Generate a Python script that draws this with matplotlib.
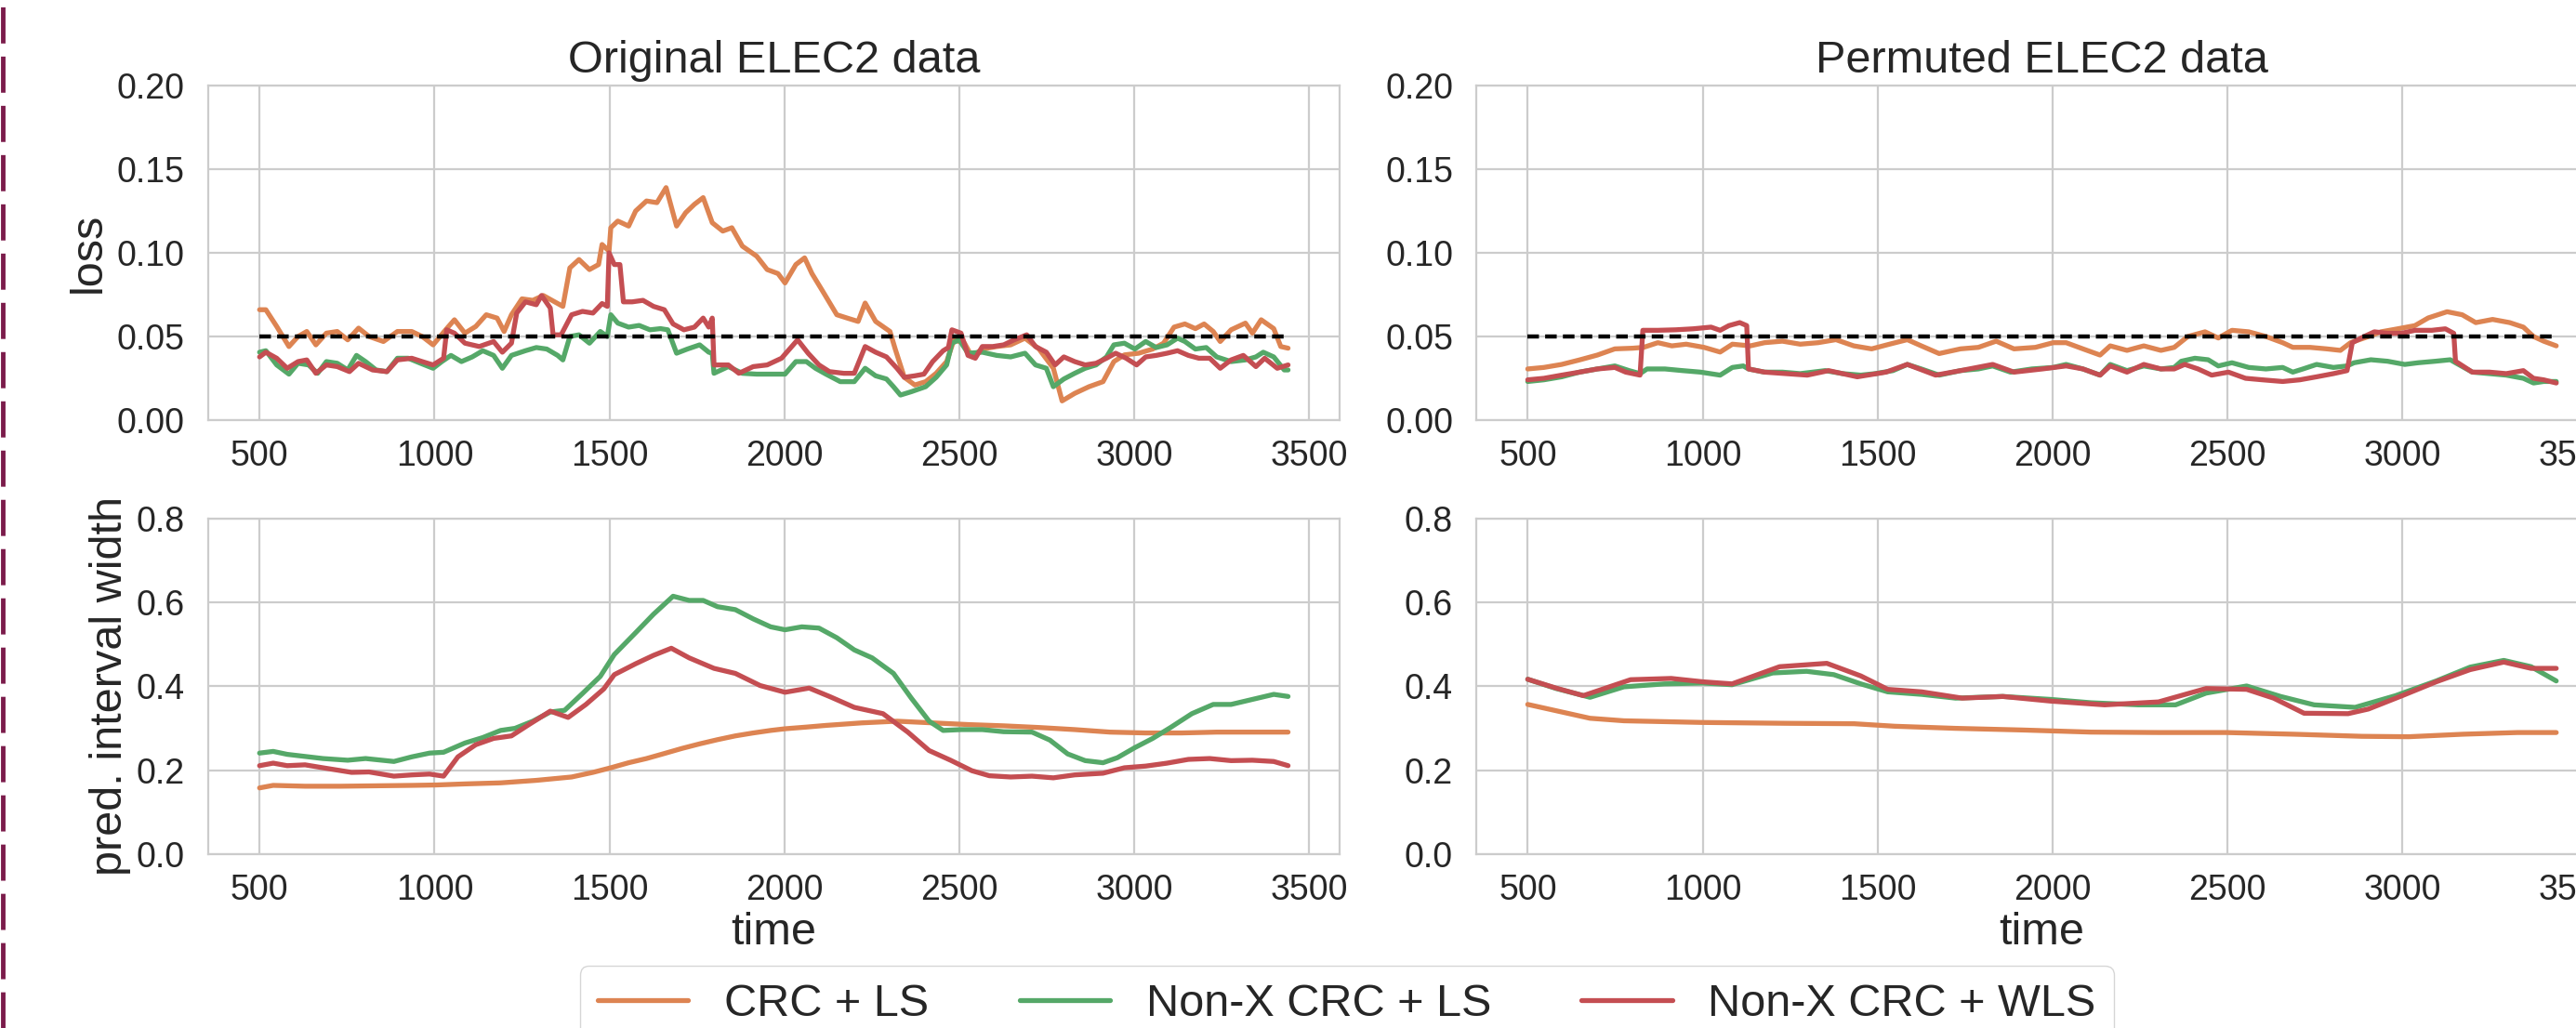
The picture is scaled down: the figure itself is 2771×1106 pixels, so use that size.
import matplotlib
matplotlib.use("Agg")
import matplotlib.pyplot as plt
import seaborn as sns
from matplotlib.lines import Line2D

# ---- data ------------------------------------------------------------------
labels = ["CRC + LS", "Non-X CRC + LS", "Non-X CRC + WLS"]
target_loss = 0.05

# original ELEC2, loss
t_orig_loss_crc = [500, 518, 549, 584, 610, 635, 661, 691, 722, 752,
                   783, 813, 854, 894, 935, 965, 996, 1032, 1057, 1087,
                   1118, 1148, 1179, 1199, 1220, 1250, 1281, 1311, 1341, 1367,
                   1387, 1413, 1443, 1469, 1479, 1499, 1504, 1524, 1555, 1575,
                   1606, 1636, 1662, 1692, 1718, 1743, 1768, 1794, 1824, 1850,
                   1880, 1921, 1951, 1982, 2002, 2033, 2058, 2079, 2109, 2150,
                   2180, 2211, 2231, 2261, 2302, 2317, 2343, 2373, 2404, 2434,
                   2464, 2485, 2515, 2536, 2566, 2607, 2647, 2688, 2728, 2769,
                   2794, 2830, 2871, 2911, 2942, 2972, 3013, 3053, 3084, 3114,
                   3145, 3175, 3200, 3226, 3246, 3277, 3318, 3338, 3363, 3399,
                   3419, 3440]
orig_loss_crc = [0.066, 0.066, 0.056, 0.044, 0.050, 0.053, 0.045, 0.052, 0.053, 0.048,
                 0.055, 0.050, 0.047, 0.053, 0.053, 0.050, 0.045, 0.054, 0.060, 0.052,
                 0.056, 0.063, 0.061, 0.053, 0.063, 0.0725, 0.0716, 0.0745, 0.071, 0.068,
                 0.091, 0.096, 0.090, 0.093, 0.105, 0.101, 0.115, 0.119, 0.116, 0.125,
                 0.131, 0.130, 0.139, 0.116, 0.124, 0.129, 0.133, 0.118, 0.113, 0.115,
                 0.104, 0.098, 0.090, 0.0876, 0.082, 0.093, 0.097, 0.0876, 0.0773, 0.063,
                 0.061, 0.059, 0.070, 0.059, 0.053, 0.0425, 0.0256, 0.021, 0.023, 0.028,
                 0.035, 0.048, 0.046, 0.038, 0.0425, 0.044, 0.045, 0.049, 0.0425, 0.031,
                 0.0115, 0.016, 0.020, 0.023, 0.035, 0.039, 0.040, 0.0425, 0.046, 0.0556,
                 0.0575, 0.0547, 0.0575, 0.053, 0.047, 0.054, 0.058, 0.052, 0.060, 0.0547,
                 0.044, 0.043]

t_orig_loss_ls = [500, 518, 549, 584, 610, 640, 666, 691, 722, 752,
                  777, 803, 833, 864, 894, 925, 960, 996, 1021, 1047,
                  1077, 1108, 1138, 1169, 1194, 1220, 1260, 1291, 1321, 1352,
                  1367, 1387, 1413, 1443, 1474, 1494, 1504, 1524, 1555, 1585,
                  1616, 1646, 1667, 1692, 1723, 1758, 1784, 1794, 1799, 1840,
                  1880, 1921, 1961, 2002, 2033, 2063, 2089, 2119, 2160, 2200,
                  2231, 2261, 2292, 2312, 2332, 2363, 2404, 2434, 2464, 2479,
                  2500, 2525, 2566, 2607, 2647, 2688, 2718, 2749, 2769, 2799,
                  2830, 2860, 2891, 2921, 2942, 2972, 3002, 3033, 3063, 3094,
                  3124, 3145, 3175, 3206, 3236, 3277, 3318, 3348, 3369, 3399,
                  3429, 3440]
orig_loss_ls = [0.0406, 0.0415, 0.033, 0.0275, 0.034, 0.033, 0.028, 0.035, 0.034, 0.030,
                0.0387, 0.035, 0.030, 0.029, 0.037, 0.037, 0.034, 0.031, 0.035, 0.0387,
                0.035, 0.0378, 0.0415, 0.0387, 0.031, 0.0387, 0.0415, 0.0434, 0.0425, 0.0387,
                0.036, 0.050, 0.051, 0.046, 0.053, 0.050, 0.063, 0.058, 0.0556, 0.0566,
                0.054, 0.0547, 0.054, 0.040, 0.0425, 0.045, 0.0406, 0.040, 0.028, 0.032,
                0.028, 0.0275, 0.0275, 0.0275, 0.035, 0.035, 0.031, 0.0275, 0.023, 0.023,
                0.031, 0.0265, 0.0246, 0.020, 0.015, 0.017, 0.020, 0.0256, 0.033, 0.046,
                0.048, 0.040, 0.0406, 0.0387, 0.0378, 0.040, 0.033, 0.031, 0.020, 0.0246,
                0.028, 0.031, 0.033, 0.0378, 0.045, 0.046, 0.0425, 0.047, 0.0434, 0.045,
                0.049, 0.047, 0.0425, 0.0434, 0.0378, 0.035, 0.036, 0.0378, 0.0406, 0.0378,
                0.030, 0.030]

t_orig_loss_wls = [500, 518, 549, 579, 610, 635, 661, 691, 722, 757,
                   783, 823, 864, 894, 935, 965, 996, 1026, 1035, 1057,
                   1087, 1128, 1169, 1194, 1220, 1235, 1260, 1291, 1306, 1331,
                   1339, 1362, 1392, 1423, 1453, 1479, 1494, 1499, 1514, 1530,
                   1540, 1565, 1596, 1626, 1657, 1682, 1713, 1743, 1768, 1784,
                   1794, 1799, 1840, 1870, 1911, 1951, 1992, 2038, 2068, 2099,
                   2129, 2170, 2200, 2231, 2261, 2292, 2322, 2343, 2373, 2399,
                   2424, 2454, 2469, 2479, 2505, 2525, 2546, 2566, 2596, 2627,
                   2657, 2693, 2718, 2749, 2774, 2799, 2830, 2860, 2891, 2921,
                   2947, 2977, 3007, 3033, 3063, 3094, 3124, 3155, 3185, 3216,
                   3246, 3277, 3312, 3348, 3373, 3409, 3440]
orig_loss_wls = [0.0378, 0.0406, 0.037, 0.031, 0.035, 0.036, 0.028, 0.033, 0.032, 0.029,
                 0.034, 0.030, 0.029, 0.036, 0.037, 0.035, 0.033, 0.037, 0.054, 0.052,
                 0.046, 0.044, 0.047, 0.0406, 0.046, 0.064, 0.0707, 0.069, 0.0745, 0.067,
                 0.051, 0.051, 0.063, 0.065, 0.064, 0.0697, 0.068, 0.100, 0.093, 0.093,
                 0.0707, 0.0707, 0.0716, 0.068, 0.066, 0.0575, 0.054, 0.0556, 0.061, 0.0556,
                 0.061, 0.033, 0.033, 0.028, 0.032, 0.033, 0.037, 0.048, 0.040, 0.033,
                 0.029, 0.028, 0.028, 0.044, 0.0406, 0.0378, 0.031, 0.0256, 0.0265, 0.0275,
                 0.035, 0.0415, 0.0434, 0.054, 0.052, 0.0387, 0.037, 0.044, 0.044, 0.045,
                 0.048, 0.051, 0.044, 0.0406, 0.033, 0.0378, 0.035, 0.033, 0.034, 0.037,
                 0.040, 0.037, 0.033, 0.0378, 0.0387, 0.040, 0.0415, 0.0387, 0.037, 0.037,
                 0.031, 0.036, 0.0387, 0.032, 0.037, 0.031, 0.033]

# permuted ELEC2, loss
t_perm_loss_crc = [500, 546, 597, 648, 699, 749, 800, 831, 872, 912,
                   953, 1004, 1050, 1085, 1136, 1177, 1228, 1279, 1330, 1381,
                   1432, 1483, 1534, 1585, 1625, 1676, 1737, 1788, 1839, 1890,
                   1951, 2002, 2039, 2087, 2136, 2165, 2213, 2261, 2310, 2348,
                   2387, 2436, 2474, 2513, 2561, 2610, 2658, 2687, 2736, 2784,
                   2823, 2852, 2891, 2939, 2987, 3036, 3074, 3128, 3171, 3210,
                   3258, 3307, 3346, 3375, 3404, 3440]
perm_loss_crc = [0.0306, 0.0315, 0.0333, 0.036, 0.0389, 0.0426, 0.043, 0.0435, 0.0463, 0.0444,
                 0.0454, 0.0435, 0.0407, 0.0454, 0.0444, 0.0463, 0.0472, 0.0454, 0.0463, 0.0481,
                 0.0444, 0.0426, 0.0454, 0.0481, 0.0444, 0.0398, 0.0426, 0.0435, 0.0472, 0.0426,
                 0.0435, 0.0463, 0.0463, 0.0426, 0.0389, 0.0444, 0.0417, 0.0444, 0.0417, 0.0435,
                 0.050, 0.0528, 0.0491, 0.0537, 0.0528, 0.050, 0.0463, 0.0435, 0.0435, 0.0426,
                 0.0417, 0.0463, 0.0491, 0.0528, 0.0546, 0.0565, 0.0611, 0.0648, 0.063, 0.0583,
                 0.0602, 0.0583, 0.0556, 0.050, 0.0472, 0.0444]

t_perm_loss_ls = [500, 546, 597, 648, 699, 749, 790, 821, 841, 892,
                  943, 994, 1050, 1085, 1116, 1131, 1177, 1228, 1279, 1350,
                  1401, 1452, 1493, 1544, 1585, 1625, 1676, 1737, 1788, 1829,
                  1880, 1941, 2002, 2039, 2087, 2136, 2165, 2213, 2261, 2310,
                  2348, 2368, 2407, 2445, 2474, 2513, 2561, 2610, 2658, 2687,
                  2716, 2755, 2803, 2842, 2862, 2910, 2958, 3007, 3045, 3094,
                  3137, 3152, 3200, 3249, 3297, 3346, 3375, 3404, 3440]
perm_loss_ls = [0.0231, 0.0241, 0.0259, 0.0287, 0.0306, 0.0324, 0.0296, 0.0278, 0.0306, 0.0306,
                0.0296, 0.0287, 0.0269, 0.0315, 0.0324, 0.0306, 0.0287, 0.0287, 0.0278, 0.0296,
                0.0278, 0.0269, 0.0278, 0.0296, 0.0333, 0.0306, 0.0269, 0.0296, 0.0306, 0.0324,
                0.0287, 0.0306, 0.0315, 0.0333, 0.0306, 0.0269, 0.0333, 0.0296, 0.0324, 0.0306,
                0.0315, 0.0352, 0.037, 0.0361, 0.0324, 0.0343, 0.0315, 0.0306, 0.0315, 0.0287,
                0.0306, 0.0333, 0.0315, 0.0324, 0.0343, 0.0361, 0.0352, 0.0333, 0.0343, 0.0352,
                0.0361, 0.0343, 0.0287, 0.0278, 0.0269, 0.025, 0.0222, 0.0231, 0.0231]

t_perm_loss_wls = [500, 546, 597, 648, 699, 749, 780, 821, 829, 872,
                   923, 973, 1024, 1050, 1075, 1106, 1126, 1131, 1177, 1238,
                   1299, 1360, 1442, 1524, 1585, 1666, 1737, 1829, 1890, 1971,
                   2039, 2087, 2136, 2165, 2213, 2261, 2310, 2348, 2378, 2416,
                   2455, 2503, 2552, 2600, 2658, 2707, 2755, 2803, 2842, 2857,
                   2891, 2920, 2958, 2997, 3036, 3084, 3123, 3147, 3152, 3200,
                   3249, 3297, 3346, 3375, 3404, 3440]
perm_loss_wls = [0.0241, 0.025, 0.0269, 0.0287, 0.0306, 0.0315, 0.0287, 0.0269, 0.0537, 0.0537,
                 0.054, 0.0546, 0.0556, 0.0537, 0.0565, 0.0583, 0.0565, 0.0306, 0.0287, 0.0278,
                 0.0269, 0.0296, 0.0259, 0.0287, 0.0333, 0.0269, 0.0296, 0.0333, 0.0287, 0.0306,
                 0.0324, 0.0306, 0.0269, 0.0324, 0.0287, 0.0333, 0.0306, 0.0306, 0.0333, 0.0306,
                 0.0269, 0.0287, 0.025, 0.0241, 0.0231, 0.0241, 0.0259, 0.0278, 0.0296, 0.0463,
                 0.050, 0.0528, 0.0519, 0.0519, 0.0537, 0.0537, 0.0546, 0.0519, 0.0352, 0.0287,
                 0.0287, 0.0278, 0.0296, 0.025, 0.0241, 0.0222]

# original ELEC2, interval width
t_orig_w_crc = [500, 539, 630, 732, 833, 935, 1006, 1087, 1189, 1291,
                1392, 1453, 1504, 1555, 1606, 1657, 1707, 1758, 1809, 1860,
                1911, 1961, 2002, 2063, 2119, 2221, 2322, 2424, 2525, 2627,
                2728, 2830, 2931, 3033, 3135, 3236, 3338, 3440]
orig_w_crc = [0.158, 0.164, 0.162, 0.162, 0.163, 0.164, 0.165, 0.1675, 0.170, 0.176,
              0.184, 0.195, 0.206, 0.218, 0.228, 0.240, 0.252, 0.263, 0.273, 0.282,
              0.289, 0.295, 0.299, 0.303, 0.307, 0.313, 0.317, 0.313, 0.309, 0.306,
              0.302, 0.297, 0.291, 0.289, 0.289, 0.291, 0.291, 0.291]

t_orig_w_ls = [500, 539, 579, 630, 681, 752, 803, 884, 935, 986,
               1026, 1087, 1138, 1189, 1230, 1281, 1331, 1372, 1423, 1474,
               1514, 1575, 1626, 1682, 1728, 1768, 1809, 1860, 1911, 1961,
               2002, 2050, 2099, 2150, 2200, 2251, 2312, 2363, 2414, 2454,
               2505, 2566, 2627, 2708, 2759, 2810, 2860, 2911, 2952, 3002,
               3053, 3104, 3165, 3226, 3277, 3338, 3399, 3440]
orig_w_ls = [0.241, 0.245, 0.238, 0.233, 0.228, 0.224, 0.228, 0.221, 0.232, 0.241,
             0.243, 0.265, 0.278, 0.295, 0.300, 0.317, 0.339, 0.343, 0.383, 0.424,
             0.476, 0.528, 0.572, 0.615, 0.605, 0.605, 0.590, 0.583, 0.561, 0.542,
             0.535, 0.542, 0.539, 0.516, 0.487, 0.468, 0.431, 0.372, 0.317, 0.295,
             0.297, 0.297, 0.292, 0.291, 0.272, 0.239, 0.223, 0.218, 0.230, 0.254,
             0.276, 0.302, 0.335, 0.357, 0.357, 0.369, 0.381, 0.376]

t_orig_w_wls = [500, 539, 579, 630, 681, 763, 813, 884, 935, 986,
                1026, 1067, 1118, 1169, 1220, 1270, 1331, 1382, 1433, 1484,
                1514, 1575, 1626, 1677, 1728, 1799, 1860, 1931, 2002, 2071,
                2129, 2200, 2282, 2353, 2414, 2475, 2536, 2586, 2647, 2708,
                2769, 2830, 2911, 2972, 3033, 3094, 3155, 3216, 3277, 3338,
                3399, 3440]
orig_w_wls = [0.211, 0.217, 0.211, 0.213, 0.206, 0.195, 0.196, 0.186, 0.189, 0.191,
              0.186, 0.232, 0.261, 0.276, 0.282, 0.309, 0.341, 0.326, 0.357, 0.394,
              0.428, 0.454, 0.474, 0.491, 0.468, 0.443, 0.431, 0.402, 0.386, 0.396,
              0.376, 0.350, 0.335, 0.291, 0.247, 0.224, 0.199, 0.187, 0.184, 0.186,
              0.182, 0.189, 0.193, 0.206, 0.210, 0.217, 0.226, 0.228, 0.223, 0.224,
              0.221, 0.211]

# permuted ELEC2, interval width
t_perm_w_crc = [500, 581, 678, 775, 1000, 1239, 1433, 1549, 1723, 1916,
                2110, 2303, 2497, 2690, 2884, 3018, 3174, 3329, 3440]
perm_w_crc = [0.357, 0.342, 0.324, 0.318, 0.314, 0.312, 0.311, 0.305, 0.300, 0.296,
              0.291, 0.290, 0.290, 0.286, 0.281, 0.280, 0.286, 0.290, 0.290]

t_perm_w_ls = [500, 581, 678, 775, 891, 1000, 1084, 1200, 1297, 1375,
               1452, 1529, 1626, 1723, 1858, 1994, 2110, 2245, 2352, 2439,
               2555, 2652, 2748, 2865, 2981, 3097, 3194, 3290, 3368, 3440]
perm_w_ls = [0.417, 0.395, 0.374, 0.399, 0.406, 0.408, 0.404, 0.432, 0.436, 0.428,
             0.406, 0.387, 0.381, 0.372, 0.376, 0.369, 0.361, 0.356, 0.356, 0.384,
             0.401, 0.376, 0.356, 0.350, 0.378, 0.413, 0.446, 0.462, 0.447, 0.413]

t_perm_w_wls = [500, 581, 659, 794, 910, 1000, 1084, 1220, 1355, 1452,
                1529, 1626, 1742, 1858, 1994, 2149, 2303, 2439, 2555, 2632,
                2719, 2845, 2903, 3000, 3097, 3194, 3290, 3368, 3440]
perm_w_wls = [0.417, 0.396, 0.378, 0.416, 0.419, 0.411, 0.406, 0.447, 0.455, 0.425,
              0.393, 0.387, 0.372, 0.376, 0.365, 0.356, 0.363, 0.395, 0.393, 0.372,
              0.336, 0.335, 0.346, 0.378, 0.411, 0.440, 0.458, 0.443, 0.443]

x_ticks = [500, 1000, 1500, 2000, 2500, 3000, 3500]
loss_ticks = [0.00, 0.05, 0.10, 0.15, 0.20]
width_ticks = [0.0, 0.2, 0.4, 0.6, 0.8]

# ---- style ------------------------------------------------------------------
sns.set_theme(style="whitegrid")
plt.rcParams["font.family"] = ["Liberation Sans", "DejaVu Sans"]
colors = ["#DD8452", "#55A868", "#C44E52"]
txt = "#262626"

fig = plt.figure(figsize=(27.71, 11.06), dpi=100)
ax_tl = fig.add_axes([0.0808, 0.5913, 0.4392, 0.3255])
ax_tr = fig.add_axes([0.5731, 0.5913, 0.4392, 0.3255])
ax_bl = fig.add_axes([0.0808, 0.1691, 0.4392, 0.3264])
ax_br = fig.add_axes([0.5731, 0.1691, 0.4392, 0.3264])

panels = [
    (ax_tl, [(t_orig_loss_crc, orig_loss_crc), (t_orig_loss_ls, orig_loss_ls),
             (t_orig_loss_wls, orig_loss_wls)]),
    (ax_tr, [(t_perm_loss_crc, perm_loss_crc), (t_perm_loss_ls, perm_loss_ls),
             (t_perm_loss_wls, perm_loss_wls)]),
    (ax_bl, [(t_orig_w_crc, orig_w_crc), (t_orig_w_ls, orig_w_ls),
             (t_orig_w_wls, orig_w_wls)]),
    (ax_br, [(t_perm_w_crc, perm_w_crc), (t_perm_w_ls, perm_w_ls),
             (t_perm_w_wls, perm_w_wls)]),
]

for ax, series in panels:
    for (t, y), c, lab in zip(series, colors, labels):
        ax.plot(t, y, color=c, lw=3.8, label=lab, solid_joinstyle="round")
    ax.set_xticks(x_ticks)
    ax.grid(True, color="#cccccc", lw=1.6)
    for s in ax.spines.values():
        s.set_color("#cccccc")
        s.set_linewidth(1.6)
    ax.tick_params(axis="both", length=0, labelsize=27, labelcolor=txt)
    ax.tick_params(axis="x", pad=15)
    ax.tick_params(axis="y", pad=18)

# target level on the loss panels
for ax, t in [(ax_tl, t_orig_loss_crc), (ax_tr, t_perm_loss_crc)]:
    ax.hlines(target_loss, t[0], t[-1], colors="black", lw=3.2,
              linestyles=(0, (2.8, 1.5)), zorder=5)
    ax.set_ylim(0, 0.2)
    ax.set_yticks(loss_ticks)

for ax in [ax_bl, ax_br]:
    ax.set_ylim(0, 0.8)
    ax.set_yticks(width_ticks)
    ax.set_xlabel("time", fontsize=35, color=txt, labelpad=4)

ax_tl.set_title("Original ELEC2 data", fontsize=35, color=txt, pad=10)
ax_tr.set_title("Permuted ELEC2 data", fontsize=35, color=txt, pad=10)
ax_tl.set_ylabel("loss", fontsize=35, color=txt)
ax_bl.set_ylabel("pred. interval width", fontsize=35, color=txt)
ax_tl.yaxis.set_label_coords(-0.087, 0.5)
ax_bl.yaxis.set_label_coords(-0.068, 0.5)

handles, _ = ax_bl.get_legend_handles_labels()
leg = fig.legend(handles, labels, loc="upper center", bbox_to_anchor=(0.5229, 0.0606),
                 ncol=3, fontsize=35, frameon=True, borderaxespad=0)
for text in leg.get_texts():
    text.set_color(txt)
leg.get_frame().set_edgecolor("#cccccc")

# dashed border on the left edge of the screenshot
fig.add_artist(Line2D([0.0012, 0.0012], [0, 1], transform=fig.transFigure,
                      color="#7b1c4b", lw=3.5, dashes=(8, 2.9)))

fig.savefig("out.png", dpi=100)
